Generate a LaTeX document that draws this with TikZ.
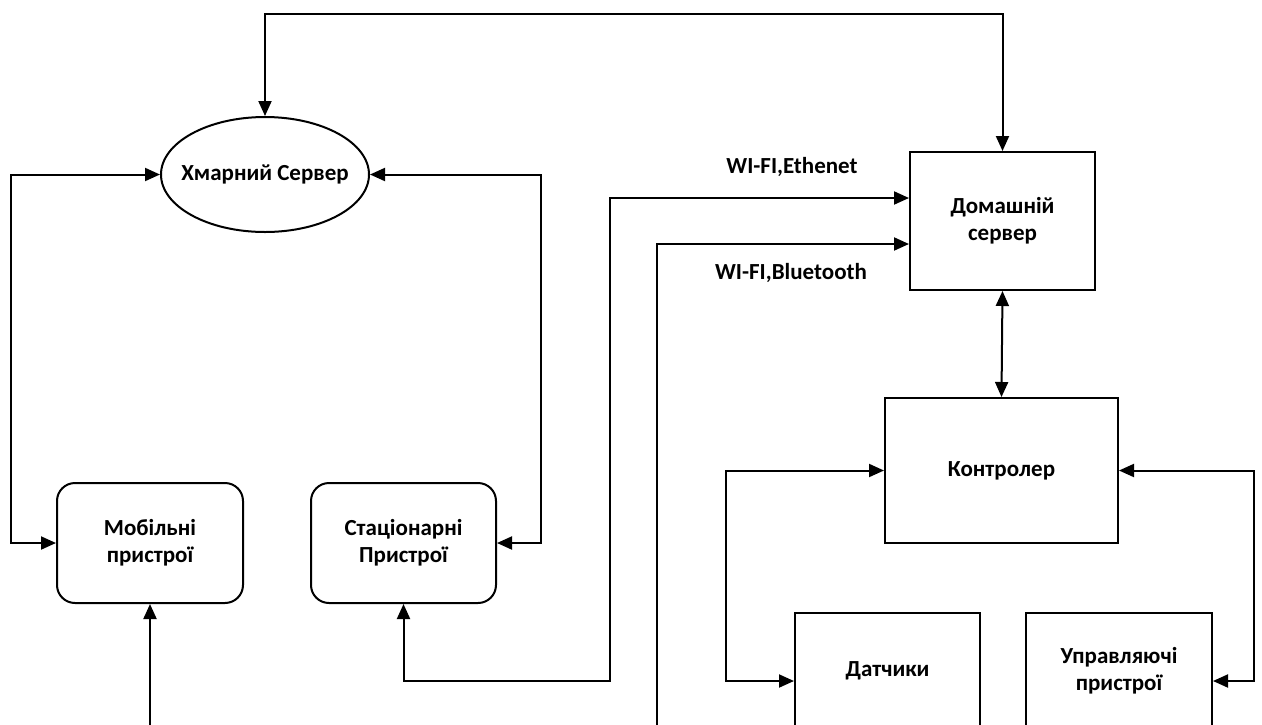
\documentclass[tikz,border=0pt]{standalone}
\usepackage{fontspec}
\setmainfont{Carlito}
\usetikzlibrary{arrows.meta,shapes.geometric}

\begin{document}
\begin{tikzpicture}[x=1pt,y=-1pt,
  txt/.style={font=\bfseries\fontsize{23}{27}\selectfont, align=center},
  blk/.style={draw, line width=2pt, inner sep=0pt, txt},
  sqbox/.style={blk, rectangle},
  rbox/.style={blk, rectangle, rounded corners=18pt},
  oval/.style={blk, ellipse},
  tip/.tip={Triangle[length=15pt,width=13pt]},
  one/.style={line width=2pt, -tip},
  both/.style={line width=2pt, tip-tip},
]
\useasboundingbox (0,0) rectangle (1262,724);
\clip (0,0) rectangle (1262,724);

% blocks (the oval's text is boxed at zero width so the oval keeps its size)
\node[oval, minimum width=208pt, minimum height=115pt] (cloud) at (265,174.5) {\makebox[0pt]{Хмарний Сервер}};
\node[rbox, minimum width=186pt, minimum height=120pt] (mob) at (150,543) {Мобільні\\пристрої};
\node[rbox, minimum width=185pt, minimum height=120pt] (stat) at (403.5,543) {Стаціонарні\\Пристрої};
\node[sqbox, minimum width=185pt, minimum height=138pt] (home) at (1002.5,221) {Домашній\\сервер};
\node[sqbox, minimum width=233pt, minimum height=145pt] (ctrl) at (1001.5,470.5) {Контролер};
\node[sqbox, minimum width=185pt, minimum height=116pt] (sens) at (887.5,671) {Датчики};
\node[sqbox, minimum width=186pt, minimum height=116pt] (act) at (1119,671) {Управляючі\\пристрої};

% routing points
\coordinate (top) at (265,14);
\coordinate (lx) at (11,0);
\coordinate (rx) at (541,0);
\coordinate (mobin) at (150,730);
\coordinate (eth) at (610,681);
\coordinate (ethin) at (0,198);
\coordinate (bt) at (657,730);
\coordinate (btin) at (0,244);
\coordinate (sx) at (726,0);
\coordinate (ax) at (1254,0);
\coordinate (low) at (0,681);

% cloud links
\draw[both] (cloud.north) -- (top) -| (home.north);
\draw[both] (cloud.west) -| (lx |- mob.west) -- (mob.west);
\draw[both] (cloud.east) -| (rx |- stat.east) -- (stat.east);
\draw[one] (mobin) -- (mob.south);

% local network links
\draw[both] (stat.south) |- (eth) |- (home.west |- ethin);
\draw[one] (bt) |- (home.west |- btin);
\node[txt] (ethlbl) at (792,167) {WI-FI,Ethenet};
\node[txt] (btlbl) at (791,273) {WI-FI,Bluetooth};

% controller links
\draw[both] (home.south) -- (ctrl.north);
\draw[both] (ctrl.west) -| (sx |- low) -- (sens.west |- low);
\draw[both] (ctrl.east) -| (ax |- low) -- (act.east |- low);
\end{tikzpicture}
\end{document}
